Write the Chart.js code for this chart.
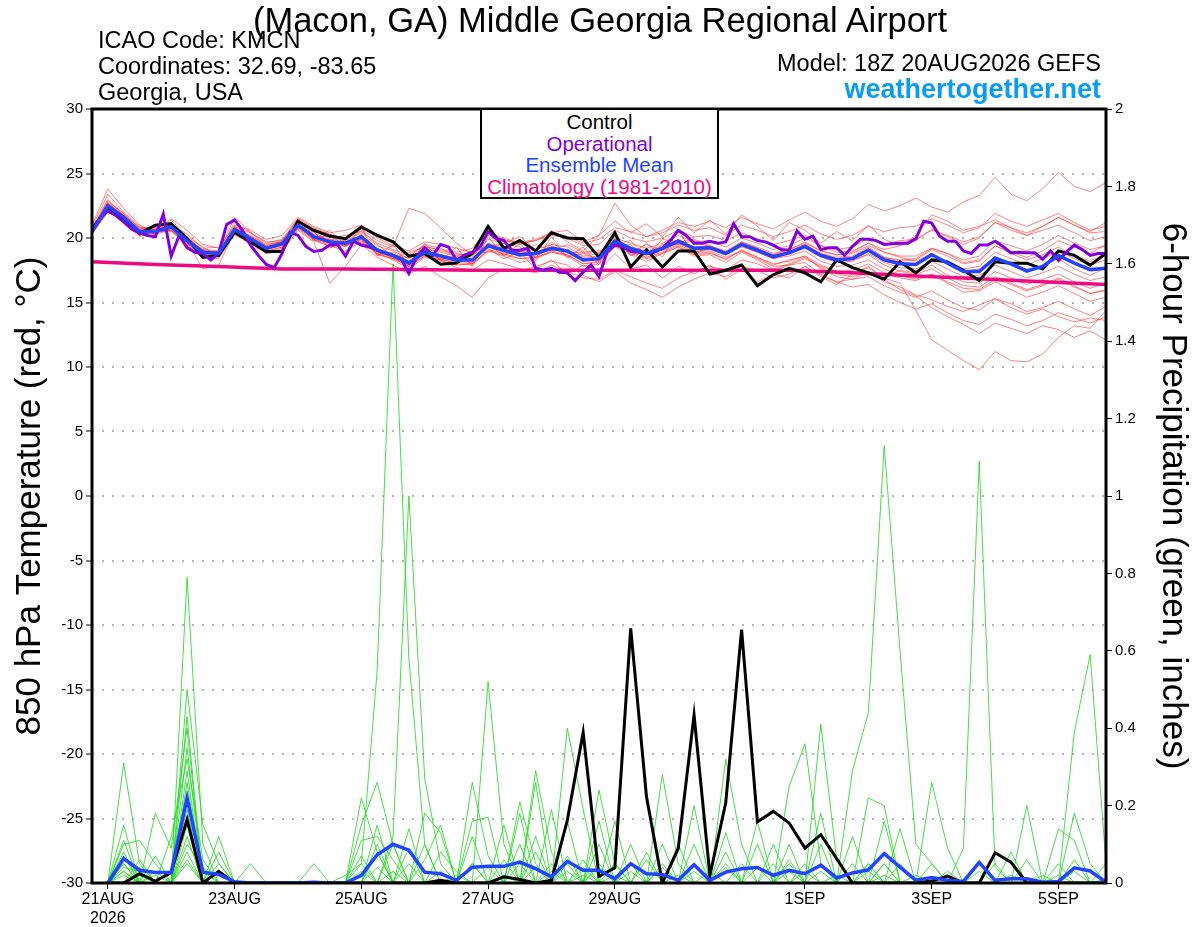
<!DOCTYPE html>
<html>
<head>
<meta charset="utf-8">
<script src="https://cdn.jsdelivr.net/npm/chart.js@4.4.1/dist/chart.umd.min.js"></script>
<style>
  body { margin: 0; background: #fff; font-family: 'Liberation Sans', Arial, sans-serif; }
  #wrap { position: relative; width: 1200px; height: 927px; overflow: hidden; }
  #chart { position: absolute; left: 0; top: 0; }
  .txt { position: absolute; white-space: nowrap; color: #000; }
  #title { left: 0; width: 1200px; top: 1px; text-align: center; font-size: 34.5px; line-height: 38px; }
  #info { left: 98px; top: 27px; font-size: 23.5px; line-height: 26px; }
  #model { right: 99px; top: 50px; font-size: 23.5px; line-height: 26px; text-align: right; }
  #site { right: 99px; top: 76px; font-size: 27px; line-height: 26px; font-weight: bold; color: #0a9cf5; }
  #key { position: absolute; left: 480px; top: 108px; width: 239px; height: 91px; box-sizing: border-box;
         border: 2px solid #000; background: #fff; text-align: center; font-size: 20.5px; line-height: 21.5px; padding-top: 1px; }
</style>
</head>
<body>
<div id="wrap">
  <canvas id="chart" width="1200" height="927"></canvas>
  <div class="txt" id="title">(Macon, GA) Middle Georgia Regional Airport</div>
  <div class="txt" id="info">ICAO Code: KMCN<br>Coordinates: 32.69, -83.65<br>Georgia, USA</div>
  <div class="txt" id="model">Model: 18Z 20AUG2026 GEFS</div>
  <div class="txt" id="site">weathertogether.net</div>
  <div id="key">
    <div style="color:#000">Control</div>
    <div style="color:#8000dd">Operational</div>
    <div style="color:#2244ff">Ensemble Mean</div>
    <div style="color:#ee0a84">Climatology (1981-2010)</div>
  </div>
</div>
<script>
// ─── time axis: index of 6-hourly step from 18Z 20AUG2026 ─────
const tickIdx    = [1, 9, 17, 25, 33, 45, 53, 61];
const tickLabels = [['21AUG', '2026'], '23AUG', '25AUG', '27AUG', '29AUG', '1SEP', '3SEP', '5SEP'];

// ─── 850 hPa temperature (°C), 6-hourly, 65 steps ─────────────
const controlT = [
  20.7, 22.3, 21.4, 20.35, 21.0, 21.1, 19.95, 18.5, 18.65, 20.45, 19.7, 18.95, 18.95,
  21.3, 20.6, 20.15, 19.95, 20.85, 20.2, 19.7, 18.6, 18.8, 17.96, 18.06, 18.8, 20.9,
  19.2, 19.8, 19.0, 20.4, 20.0, 19.95, 18.5, 20.4, 17.75, 19.1, 17.75, 19.0, 19.0,
  17.2, 17.5, 17.9, 16.3, 17.15, 17.65, 17.3, 16.6, 18.3, 17.7, 17.3, 16.8, 18.15,
  17.3, 18.3, 18.15, 17.5, 16.7, 18.15, 18.05, 18.05, 17.6, 19.0, 18.65, 17.9, 18.8
];
const meanT = [
  20.5, 22.5, 21.6, 20.5, 20.5, 20.85, 19.8, 18.9, 18.8, 20.65, 19.95, 19.2, 19.55,
  21.0, 20.1, 19.7, 19.6, 20.1, 19.05, 18.65, 18.05, 18.9, 18.6, 18.3, 18.3, 19.4,
  19.05, 18.7, 18.8, 19.2, 19.0, 18.3, 18.4, 19.75, 19.2, 18.8, 19.2, 19.75, 19.2,
  19.25, 18.8, 19.5, 19.05, 18.55, 18.85, 19.35, 18.65, 18.3, 18.4, 19.05, 18.3, 18.0,
  17.95, 18.7, 18.05, 17.4, 17.4, 18.45, 18.0, 17.45, 17.8, 18.65, 18.05, 17.55, 17.65
];
// operational run is 3-hourly (129 steps)
const operT = [
  20.6, 21.5, 22.1, 21.75, 21.25, 20.7, 20.4, 20.2, 20.1, 21.85, 18.6, 20.2, 19.25, 18.9, 18.8,
  18.3, 18.85, 21.05, 21.4, 20.6, 19.45, 18.65, 17.95, 17.7, 18.8, 20.45, 20.2, 19.35, 18.95, 19.05,
  19.45, 19.5, 18.6, 19.75, 19.45, 19.3, 19.1, 18.85, 18.65, 18.4, 17.25, 18.55, 19.25, 18.65,
  19.5, 19.3, 18.3, 18.65, 18.9, 19.3, 20.5, 19.95, 19.8, 19.05, 19.05, 19.2, 17.65, 17.5, 17.65,
  17.35, 17.3, 16.7, 17.35, 17.9, 17.0, 18.9, 19.45, 19.3, 18.95, 18.9, 18.8, 18.9, 19.2, 19.8,
  20.6, 20.2, 19.6, 19.6, 19.75, 19.6, 19.7, 21.1, 20.1, 20.1, 19.8, 19.7, 19.45, 19.1,
  19.05, 20.55, 19.9, 20.15, 19.1, 19.25, 19.25, 18.65, 19.35, 19.9, 19.9, 19.8, 19.5, 19.55,
  19.6, 19.6, 19.95, 21.3, 21.15, 20.15, 19.75, 19.75, 19.0, 18.8, 19.45, 19.45, 19.75, 19.35,
  18.85, 18.9, 18.85, 18.85, 18.35, 19.0, 18.25, 18.9, 19.45, 19.1, 18.65, 18.8, 18.8
];
// climatology, one value per day (every 4th step)
const climIdx = [0, 4, 8, 12, 16, 20, 24, 28, 32, 36, 40, 44, 48, 52, 56, 60, 64];
const climT   = [18.15, 17.95, 17.8, 17.6, 17.6, 17.55, 17.5, 17.5, 17.5, 17.5, 17.5, 17.5, 17.3, 17.05, 16.85, 16.6, 16.4];

// ensemble members
const memT01 = [20.8,23.4,22.0,20.9,20.2,21.4,20.1,19.3,18.6,21.3,20.4,19.6,19.9, 21.5,20.8,20.3,19.9,20.7,19.8,19.3,22.3,21.9,20.8,19.6,18.7,20.2, 19.9,19.5,19.8,20.4,20.1,19.6,19.9,20.8,20.5,20.1,20.6,21.2,20.9, 21.3,20.8,21.6,21.1,20.7,21.4,22.0,21.3,20.9,21.5,22.6,22.1,22.5, 23.1,22.4,22.0,22.8,23.3,24.7,23.4,22.9,23.8,25.1,24.0,23.6,24.3];
const memT02 = [20.4,22.1,21.2,20.1,20.6,20.5,19.5,18.6,18.9,20.2,19.7,18.8,19.2, 20.7,19.8,19.4,19.0,19.7,18.8,18.3,17.6,18.5,18.2,17.9,18.0,19.0, 18.6,18.1,18.4,18.9,18.6,17.8,18.0,19.3,18.7,18.2,18.8,19.3,18.6, 18.7,18.1,18.9,18.3,17.6,18.0,18.5,17.7,17.2,17.0,17.4,16.9,16.5, 14.4,12.1,11.3,10.5,9.8,11.2,10.5,10.4,11.0,12.3,13.2,13.0,14.4];
const memT03 = [20.6,22.8,21.9,20.7,20.9,21.0,20.3,19.2,19.3,20.9,20.4,19.7,19.8, 21.3,20.6,20.0,20.2,20.5,19.6,19.1,18.7,19.4,19.0,18.8,18.6,19.9, 19.6,20.1,19.1,20.6,19.7,19.0,20.2,21.3,20.4,21.1,20.1,21.6,20.4, 21.4,20.3,21.8,20.9,19.8,21.2,20.6,19.6,20.5,19.8,21.0,19.9,19.4, 19.8,20.7,20.1,19.5,20.0,21.2,20.6,20.2,20.9,21.6,21.0,20.5,21.2];
const memT04 = [20.3,22.0,21.4,20.3,20.4,20.6,19.6,18.7,18.5,20.5,19.6,19.0,19.3, 20.8,19.9,19.3,19.4,19.9,18.7,18.4,17.8,18.6,18.3,18.1,18.0,19.1, 18.8,18.4,18.5,18.9,18.7,18.0,18.2,19.5,18.9,18.5,18.9,19.4,18.8, 18.9,18.3,19.1,18.5,17.9,18.3,18.6,17.9,17.4,17.2,17.7,16.8,16.0, 15.5,14.6,13.9,13.3,12.6,13.4,13.0,12.6,13.2,12.9,12.3,12.8,12.1];
const memT05 = [20.7,23.0,21.7,20.6,20.3,21.2,19.9,19.0,18.7,20.8,20.1,19.4,19.8, 21.4,20.0,20.2,19.4,20.6,19.5,18.6,18.5,19.5,19.2,18.6,18.9,19.3, 19.6,19.3,18.5,19.7,18.8,18.9,19.0,19.5,19.8,18.6,19.9,19.7,19.9, 19.4,18.9,19.7,19.2,18.6,19.0,19.5,18.8,18.5,18.6,19.3,18.5,18.2, 18.3,19.1,18.6,18.0,18.2,19.4,18.9,18.5,19.0,19.8,19.3,18.8,19.5];
const memT06 = [20.5,22.3,21.5,20.4,20.7,20.8,19.7,18.8,19.0,20.6,19.8,19.1,19.4, 20.9,20.0,19.6,19.5,19.9,18.9,18.5,17.9,18.8,18.4,18.2,18.1,19.3, 18.9,18.6,18.7,19.1,18.9,18.2,18.3,19.6,19.1,18.7,19.1,19.6,19.1, 19.1,18.7,19.3,18.9,18.4,18.6,19.0,18.2,17.8,17.9,18.3,17.6,17.1, 16.8,17.2,16.5,15.8,15.9,16.6,16.0,15.4,15.8,16.3,15.7,15.1,15.4];
const memT07 = [20.6,22.6,21.3,20.2,20.6,20.9,19.9,19.1,18.9,21.6,20.5,19.3,19.6, 21.2,20.4,19.9,19.8,20.4,19.4,19.0,18.4,19.3,19.1,18.9,19.2,20.6, 19.8,19.6,19.9,20.4,20.6,19.7,20.2,22.7,21.0,20.1,20.4,21.0,20.6, 20.8,20.2,21.0,20.6,20.1,20.5,21.0,20.3,19.9,20.2,20.9,20.5,20.8, 20.9,21.5,21.0,20.4,20.8,21.9,21.3,20.9,21.4,21.9,21.2,20.6,20.9];
const memT08 = [20.4,22.2,21.6,20.6,20.3,20.6,19.4,18.5,18.4,20.3,19.5,18.8,19.0, 20.6,19.7,16.5,17.8,19.5,18.5,17.9,17.2,17.8,17.0,16.3,15.4,16.9, 17.6,17.4,17.8,18.2,17.9,17.1,16.6,17.4,16.5,16.0,15.4,16.2,16.8, 17.3,17.0,17.8,17.5,16.9,17.2,17.8,17.1,16.6,16.8,17.4,16.6,16.2, 15.6,15.2,14.7,14.3,14.8,15.3,14.6,14.1,14.5,13.9,13.5,13.8,13.6];
const memT09 = [20.8,22.7,21.8,20.8,20.8,21.1,20.0,19.1,19.0,20.7,20.2,19.5,19.7, 20.8,20.5,19.2,19.9,19.6,19.2,18.4,18.9,19.3,18.3,18.7,18.8,18.9, 19.4,18.5,19.5,19.0,19.5,18.9,18.2,20.2,18.9,19.5,19.0,19.5,19.8, 19.3,18.9,19.5,19.1,18.7,19.1,19.6,19.0,18.7,18.8,19.4,18.9,18.6, 18.6,19.2,18.8,18.1,18.3,19.4,18.8,18.3,18.7,19.3,18.6,18.2,18.8];
const memT10 = [20.5,22.4,21.5,20.5,20.6,20.7,19.8,18.9,18.7,20.5,19.9,19.2,19.5, 20.9,20.1,19.7,19.6,20.0,19.1,18.6,18.0,18.8,18.6,18.4,18.2,19.2, 18.4,18.9,17.6,18.3,17.2,17.9,17.5,18.8,17.6,17.9,16.9,17.8,17.2, 17.9,16.8,17.6,16.6,17.2,16.9,17.8,17.0,16.4,17.2,17.8,16.9,17.5, 17.3,17.9,17.1,16.6,16.5,17.4,16.9,16.4,16.8,17.2,16.6,16.1,16.5];
const memT11 = [21.0,23.8,22.3,21.0,20.4,21.5,20.6,19.5,19.2,21.0,20.6,19.9,20.2, 21.6,20.9,20.4,20.6,21.0,20.0,19.4,19.0,19.7,19.5,19.2,18.9,20.4, 20.0,19.6,19.8,20.2,20.0,19.4,19.5,20.6,20.0,19.7,20.0,20.6,20.1, 20.2,19.8,20.4,19.9,19.5,19.8,20.2,19.4,18.9,19.0,19.6,18.9,18.5, 18.2,18.8,18.0,17.4,17.6,18.5,17.9,17.3,17.8,18.4,17.6,17.1,17.7];
const memT12 = [20.6,22.5,21.8,20.6,20.8,21.0,20.1,19.0,18.8,20.9,20.1,19.3,19.7, 21.1,20.3,19.8,19.6,20.2,19.1,18.7,18.1,19.0,18.7,18.4,18.6,19.6, 19.3,18.9,19.1,19.5,19.3,18.6,18.8,20.0,19.6,19.2,19.6,20.2,19.7, 19.8,19.3,20.0,19.6,19.1,19.4,20.0,19.4,19.1,19.3,20.0,19.5,19.8, 19.9,20.6,20.2,19.7,20.1,21.2,20.8,20.4,20.9,21.6,21.0,20.4,20.5];
const memT13 = [20.3,22.1,21.3,20.2,20.5,20.6,19.6,18.7,18.6,20.4,19.6,18.9,19.3, 20.8,19.9,19.5,19.4,19.8,18.8,18.4,17.8,18.7,18.4,18.0,17.9,19.0, 18.7,18.4,18.5,19.0,18.7,18.0,18.1,19.4,18.8,18.4,18.8,19.3,18.7, 18.8,18.4,19.0,18.5,18.0,18.2,18.6,17.6,17.0,16.8,17.0,16.3,15.8, 15.4,15.9,15.2,14.6,14.4,15.3,14.9,14.3,14.6,15.1,14.5,14.0,14.7];
const memT14 = [20.6,22.4,21.5,20.4,20.5,20.9,19.8,18.9,18.9,20.6,20.0,19.2,19.6, 21.0,20.2,19.7,19.7,20.1,19.0,18.6,18.1,18.9,18.6,18.2,18.3,19.4, 18.7,19.0,18.5,19.5,18.5,18.8,18.9,19.4,19.5,18.4,19.5,19.5,18.9, 19.2,18.7,19.4,18.9,18.4,18.8,19.3,18.6,18.2,18.3,18.7,17.9,17.4, 17.2,17.6,16.9,16.3,16.2,17.0,16.5,16.0,16.4,16.9,16.3,15.7,15.9];
const memT15 = [20.5,22.6,21.7,20.6,20.6,20.9,19.9,18.8,18.7,20.6,19.9,19.1,19.5, 21.0,20.1,19.6,19.5,20.1,19.1,18.7,18.2,19.0,18.7,18.3,18.4,19.5, 19.1,18.8,18.9,19.3,19.1,18.5,18.6,19.9,19.3,19.0,19.4,19.9,19.3, 19.4,19.0,19.7,19.3,18.8,19.1,19.7,19.0,18.7,18.9,19.6,19.1,19.4, 20.2,21.8,21.3,20.6,20.9,21.4,20.8,20.2,20.6,21.0,20.4,19.8,20.1];
const memT16 = [20.4,22.3,21.6,20.5,20.4,20.8,19.7,18.9,18.8,20.7,20.0,19.3,19.6, 21.2,19.8,19.9,19.3,20.3,18.7,18.9,18.2,19.2,18.9,18.6,18.0,19.6, 19.0,18.7,18.8,19.2,19.0,18.3,18.4,19.7,19.2,18.8,19.2,19.7,19.2, 19.2,18.8,19.4,19.0,18.5,18.8,19.2,18.5,18.1,18.2,18.8,18.1,17.7, 17.6,18.2,17.6,17.0,17.1,17.9,17.4,16.9,17.3,17.8,17.2,16.7,17.0];
const memT17 = [20.7,22.9,21.9,20.8,20.7,21.0,19.9,19.0,18.9,20.8,20.0,19.3,19.6, 21.1,20.2,19.8,19.7,20.2,19.1,18.7,18.1,19.0,18.7,18.4,18.4,19.4, 19.1,18.8,18.9,19.3,19.0,18.3,18.4,19.7,19.1,18.7,19.1,19.6,19.0, 19.0,18.5,19.0,18.4,17.8,17.9,18.1,17.2,16.6,16.2,16.4,15.6,15.0, 14.5,14.9,14.2,13.6,13.3,14.1,13.7,13.2,13.6,14.2,13.8,13.4,13.9];
const memT18 = [20.6,22.6,21.6,20.5,20.6,20.8,19.8,18.9,18.8,20.6,20.0,19.2,19.6, 21.0,20.1,19.7,19.6,20.1,19.0,18.7,18.1,18.9,18.6,18.3,18.3,19.4, 19.0,18.7,18.8,19.2,19.0,18.3,18.4,19.8,19.2,18.8,19.3,19.8,19.2, 19.3,18.8,19.5,19.1,18.6,18.9,19.4,18.7,18.4,18.5,19.2,18.5,18.3, 18.4,19.2,18.8,18.3,18.6,19.8,19.4,19.0,19.5,20.2,19.6,19.1,19.4];
const memT19 = [20.5,22.2,21.4,20.4,20.5,20.7,19.7,17.6,17.9,20.5,19.8,19.1,19.5, 20.9,20.0,19.6,19.5,19.9,18.9,18.5,17.8,18.6,18.3,17.7,17.5,18.3, 18.0,17.6,17.3,17.9,17.4,16.9,16.8,17.5,17.0,16.5,16.1,16.9,17.4, 17.8,17.5,18.3,18.0,17.5,17.9,18.4,17.8,17.4,17.5,18.0,17.3,16.9, 16.7,17.2,16.6,16.1,16.0,16.8,16.4,15.9,16.3,16.8,16.2,15.7,16.0];
const memT20 = [20.7,22.7,21.7,20.7,20.6,21.0,20.0,19.0,18.8,20.8,20.1,19.4,19.7, 21.5,19.9,20.6,19.4,20.8,18.6,19.5,17.9,19.6,18.2,19.3,17.8,20.1, 18.6,19.6,18.2,20.1,18.5,19.3,17.9,20.5,18.6,19.6,18.5,20.6,18.7, 19.3,18.9,19.6,19.2,18.7,18.9,19.5,18.8,18.4,18.5,19.1,18.4,18.1, 18.0,18.7,18.2,17.6,17.8,18.9,18.4,17.9,18.4,19.0,18.4,17.9,18.3];
const tempMembers = [memT01, memT02, memT03, memT04, memT05, memT06, memT07, memT08, memT09, memT10,
                     memT11, memT12, memT13, memT14, memT15, memT16, memT17, memT18, memT19, memT20];

// ─── 6-hour precipitation (inches), steps 1..64 ───────────────
const controlP = [
  0, 0, .024, .005, .027, .164, 0, .03, 0, 0, 0, 0, 0, 0, 0, 0,
  0, 0, 0, 0, 0, .007, 0, 0, 0, .016, .009, 0, .007, .162, .389, .017,
  .039, .658, .222, 0, .089, .434, .02, .207, .655, .158, .185, .155, .09, .125, .063, 0,
  0, 0, 0, 0, .005, .018, 0, 0, .078, .054, 0, 0, 0, 0, 0, 0
];
const meanP = [
  0, .063, .033, .027, .027, .22, .028, .022, .003, 0, 0, 0, 0, .002, 0, 0,
  .02, .073, .1, .085, .028, .024, .007, .041, .043, .043, .054, .037, .016, .056, .033, .033,
  .011, .05, .024, .022, .007, .047, .007, .028, .037, .04, .02, .033, .024, .046, .013, .026,
  .034, .076, .041, .007, .014, .007, .004, .053, .007, .011, .011, .002, .004, .039, .031, .002
];
const memP01 = [0,.31,.05,0,0,.35,0,0,0,0,0,0,0,0,0,0, .05,.55,1.6,.58,.1,0,0,.05,0,0,0,.12,0,0,0,.1, 0,0,0,0,0,0,0,.05,0,0,0,0,0,0,0,0, 0,.05,0,0,0,0,0,.05,0,0,0,0,0,0,0,0];
const memP02 = [0,.15,0,.07,0,.79,.1,0,0,0,0,0,0,0,0,0, 0,0,.12,1.0,.27,.05,0,0,.52,.1,0,0,0,.07,0,0, 0,0,0,.1,0,0,0,0,0,0,0,.05,0,0,0,0, .05,0,0,0,0,0,0,0,0,0,0,0,0,0,0,0];
const memP03 = [0,.11,0,0,0,.5,.15,.05,0,0,0,0,0,0,0,0, .22,.08,0,0,.18,.13,0,0,0,0,.21,.05,0,0,0,0, .16,0,0,0,0,0,0,.32,.1,0,0,0,0,0,0,.29, .44,1.13,.6,.1,.05,0,0,0,0,0,0,0,0,0,0,0];
const memP04 = [0,.1,.11,.05,0,.43,0,.12,0,0,0,0,0,0,0,0, .15,.26,.1,0,0,0,0,.26,.07,0,0,0,0,.4,.19,0, 0,0,0,0,0,.2,0,0,0,0,0,0,0,.18,0,0, 0,0,0,0,0,0,.09,1.09,.04,0,0,0,0,0,0,0];
const memP05 = [0,.08,0,.18,.09,.4,0,0,0,.05,0,0,0,0,0,0, 0,.15,0,.14,0,0,0,0,0,0,0,.29,.08,0,0,0, 0,0,0,.28,.05,0,0,0,0,0,0,.25,.36,.05,0,0, 0,0,0,0,0,0,0,0,0,0,0,0,0,.39,.59,.05];
const memP06 = [0,.07,0,0,.12,.32,.06,0,0,0,0,0,0,0,0,0, .11,.12,.06,0,0,0,0,.16,.17,0,0,0,0,0,0,.24, .05,0,0,0,0,0,0,0,0,.16,0,0,0,.41,.06,0, .22,.2,0,0,0,0,0,0,0,0,.2,0,.05,0,0,0];
const memP07 = [0,.06,.04,0,0,.29,0,0,0,0,0,0,0,.05,0,0, 0,.1,0,0,.06,.15,0,0,0,0,.18,0,.19,0,0,0, 0,.1,0,0,0,0,0,.13,0,0,0,.1,0,0,0,0, 0,.16,0,0,.26,.09,0,0,0,0,0,0,0,.18,.05,0];
const memP08 = [0,.05,0,.03,0,.26,0,.08,0,0,0,0,0,0,0,0, .07,0,0,.09,0,0,0,0,0,.15,0,0,0,.16,0,0, 0,0,.08,0,0,.1,0,0,0,0,.1,0,0,0,0,.12, 0,0,.14,0,0,0,0,0,0,.08,0,0,.14,.11,0,0];
const memP09 = [0,.04,.03,0,0,.22,.03,0,0,0,0,0,0,0,0,0, 0,.08,0,0,0,0,0,.12,0,0,0,.26,0,0,0,.16, 0,0,0,.05,0,0,0,0,.05,0,0,0,0,.1,0,0, .05,0,0,0,0,0,0,0,.05,0,0,0,0,.06,0,.01];
const memP10 = [0,.03,0,0,.03,.19,0,0,0,0,0,0,0,0,0,.02, .05,0,0,0,0,.08,.03,0,0,0,.1,0,0,0,.06,0, 0,.05,0,0,.1,0,0,0,0,.1,0,0,.05,0,0,0, 0,0,0,.02,0,0,0,0,0,0,.06,0,0,0,0,0];
const memP11 = [0,0,.06,0,0,.15,0,.05,0,0,0,0,0,0,0,0, 0,0,.1,0,.1,0,0,0,0,.06,0,0,.05,0,0,.05, 0,0,.06,0,0,.05,0,0,0,0,.05,0,0,0,.02,0, 0,0,0,0,.05,0,0,0,0,0,0,.02,0,0,0,.05];
const memP12 = [0,.05,0,0,0,.12,0,0,0,0,0,0,0,0,0,0, 0,0,0,0,0,0,0,.05,0,0,0,.08,0,0,.04,0, .05,0,0,0,0,0,0,.08,0,0,0,0,.03,0,0,0, 0,.05,0,0,0,.03,0,0,0,0,0,0,0,0,0,0];
const memP13 = [0,0,.02,0,0,.1,.04,0,0,0,0,0,0,0,0,0, 0,0,0,.05,0,0,0,0,.04,0,0,0,0,.05,0,0, 0,0,0,.04,0,0,.03,0,0,0,0,.06,0,0,0,.05, 0,0,0,0,0,0,0,.03,0,0,0,0,0,0,0,0];
const memP14 = [0,.03,0,0,0,.08,0,0,0,0,0,0,0,0,0,0, 0,.04,0,0,0,.03,0,0,0,0,.05,0,.03,0,0,.04, 0,0,0,0,0,.03,0,0,0,.04,0,0,0,0,0,0, .03,0,0,0,0,0,0,0,0,0,0,0,0,.03,0,0];
const memP15 = [0,0,0,.02,0,.06,0,0,0,0,0,0,0,0,0,0, .03,0,0,0,0,0,.02,0,0,0,0,.04,0,0,.02,0, 0,.03,0,0,0,0,0,.04,0,0,0,0,0,.03,0,0, 0,0,.05,0,0,0,0,0,0,.02,0,0,0,0,0,0];
const memP16 = [0,.02,0,0,0,.05,0,0,0,0,0,0,0,0,0,0, 0,0,.03,0,0,0,0,0,0,.02,0,0,0,.03,0,0, .02,0,0,0,.02,0,0,0,0,0,0,.03,0,0,0,0, 0,.02,0,0,0,0,0,0,0,0,0,0,.02,0,0,0];
const precipMembers = [memP01, memP02, memP03, memP04, memP05, memP06, memP07, memP08,
                       memP09, memP10, memP11, memP12, memP13, memP14, memP15, memP16];

// ─── helpers ──────────────────────────────────────────────────
const steps6 = (arr, start) => arr.map((v, i) => ({ x: i + start, y: v }));
const steps3 = arr => arr.map((v, i) => ({ x: i / 2, y: v }));
const line = (label, data, color, width, axis, order) => ({
  label, data, borderColor: color, borderWidth: width, yAxisID: axis, order,
  pointRadius: 0, tension: 0, fill: false,
});

const datasets = [
  line('Ensemble Mean', steps6(meanT, 0), '#2244ff', 3.5, 'y', 0),
  line('Operational', steps3(operT), '#8000dd', 3, 'y', 1),
  line('Control', steps6(controlT, 0), '#000', 3, 'y', 2),
  line('Climatology', climT.map((v, i) => ({ x: climIdx[i], y: v })), '#ee0a84', 3.5, 'y', 3),
  line('Mean precip', steps6(meanP, 1), '#2244ff', 3.5, 'y1', 4),
  line('Control precip', steps6(controlP, 1), '#000', 3, 'y1', 5),
];
tempMembers.forEach((m, k) => datasets.push(line('T' + (k + 1), steps6(m, 0), 'rgba(255,50,50,0.6)', 1, 'y', 10)));
precipMembers.forEach((m, k) => datasets.push(line('P' + (k + 1), steps6(m, 1), 'rgba(40,215,40,0.85)', 1, 'y1', 11)));

// ─── plot frame ───────────────────────────────────────────────
const framePlugin = {
  id: 'frame',
  afterDatasetsDraw(chart) {
    const { ctx, chartArea: a } = chart;
    ctx.save();
    ctx.lineWidth = 3;
    ctx.strokeStyle = '#000';
    ctx.strokeRect(a.left, a.top, a.right - a.left, a.bottom - a.top);
    ctx.restore();
  },
};

Chart.defaults.font.family = "'Liberation Sans', Arial, sans-serif";
Chart.defaults.color = '#000';

new Chart(document.getElementById('chart').getContext('2d'), {
  type: 'line',
  data: { datasets },
  options: {
    responsive: false,
    animation: false,
    layout: { padding: { top: 109, left: 0, right: 0, bottom: 0 } },
    plugins: { legend: { display: false }, tooltip: { enabled: false } },
    scales: {
      x: {
        type: 'linear', min: 0, max: 64,
        afterBuildTicks: s => { s.ticks = tickIdx.map(v => ({ value: v })); },
        afterFit: s => { s.height = 44; },
        ticks: { autoSkip: false, maxRotation: 0, padding: 1, font: { size: 16 },
                 callback: v => tickLabels[tickIdx.indexOf(v)] },
        grid: { drawOnChartArea: false, tickLength: 6, tickColor: '#000', tickWidth: 1 },
        border: { display: false },
      },
      y: {
        position: 'left', min: -30, max: 30,
        afterFit: s => { s.width = 92; },
        ticks: { stepSize: 5, font: { size: 15 }, padding: 3 },
        grid: { color: '#b4b4b4', lineWidth: 2, tickLength: 6, tickColor: '#000', tickWidth: 1, tickBorderDash: [] },
        border: { display: false, dash: [2, 8] },
        title: { display: true, text: '850 hPa Temperature (red, °C)', font: { size: 35 }, padding: { top: 9 } },
      },
      y1: {
        position: 'right', min: 0, max: 2,
        afterFit: s => { s.width = 94; },
        ticks: { stepSize: 0.2, font: { size: 15 }, padding: 3, callback: v => String(+v.toFixed(1)) },
        grid: { drawOnChartArea: false, tickLength: 6, tickColor: '#000', tickWidth: 1 },
        border: { display: false },
        title: { display: true, text: '6-hour Precipitation (green, inches)', font: { size: 35 }, padding: { top: 6 } },
      },
    },
  },
  plugins: [framePlugin],
});
</script>
</body>
</html>
